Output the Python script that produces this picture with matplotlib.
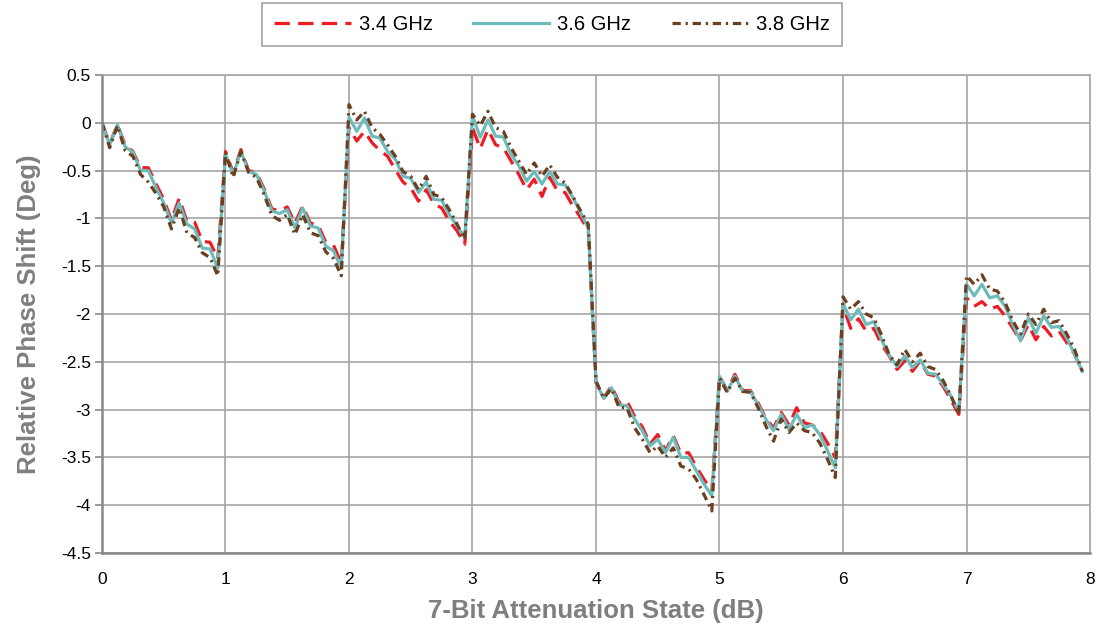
import numpy as np
import matplotlib
matplotlib.use("Agg")
import matplotlib.pyplot as plt
from matplotlib.ticker import FuncFormatter, MultipleLocator

plt.rcParams["font.family"] = ["Liberation Sans", "DejaVu Sans"]
plt.rcParams["axes.unicode_minus"] = False

# 7-bit attenuator, LSB = 0.0625 dB -> 128 states
states = np.arange(128) * 0.0625

# relative phase shift (deg) per state
phase_34 = [
    0.00, -0.22, -0.02, -0.23, -0.30, -0.47, -0.47, -0.64, -0.80, -1.02, -0.79, -1.03, -1.04, -1.24, -1.25, -1.42,
    -0.30, -0.52, -0.28, -0.50, -0.52, -0.69, -0.90, -0.92, -0.88, -1.05, -0.87, -1.05, -1.07, -1.25, -1.28, -1.47,
    -0.05, -0.19, -0.09, -0.21, -0.29, -0.35, -0.49, -0.62, -0.68, -0.82, -0.70, -0.85, -0.89, -1.03, -1.13, -1.27,
    -0.05, -0.27, -0.07, -0.23, -0.26, -0.40, -0.54, -0.70, -0.59, -0.77, -0.57, -0.71, -0.73, -0.87, -0.99, -1.13,
    -2.72, -2.88, -2.75, -2.93, -2.91, -3.07, -3.18, -3.36, -3.26, -3.43, -3.27, -3.46, -3.45, -3.60, -3.73, -3.85,
    -2.65, -2.80, -2.63, -2.80, -2.80, -2.93, -3.09, -3.19, -3.03, -3.16, -2.98, -3.14, -3.16, -3.22, -3.35, -3.50,
    -1.92, -2.15, -2.05, -2.18, -2.15, -2.32, -2.44, -2.58, -2.49, -2.60, -2.49, -2.63, -2.65, -2.76, -2.90, -3.05,
    -1.83, -1.92, -1.87, -1.95, -1.92, -2.02, -2.15, -2.28, -2.11, -2.27, -2.13, -2.23, -2.18, -2.30, -2.42, -2.60,
]
phase_36 = [
    0.00, -0.23, -0.02, -0.25, -0.31, -0.50, -0.50, -0.68, -0.84, -1.05, -0.84, -1.06, -1.11, -1.31, -1.32, -1.52,
    -0.33, -0.54, -0.30, -0.51, -0.54, -0.71, -0.92, -0.95, -0.91, -1.10, -0.89, -1.08, -1.10, -1.29, -1.34, -1.52,
    0.06, -0.09, 0.05, -0.14, -0.16, -0.30, -0.38, -0.56, -0.58, -0.73, -0.62, -0.80, -0.81, -0.96, -1.08, -1.20,
    0.07, -0.15, 0.03, -0.14, -0.15, -0.33, -0.45, -0.61, -0.51, -0.64, -0.51, -0.64, -0.65, -0.78, -0.94, -1.10,
    -2.72, -2.88, -2.77, -2.95, -2.96, -3.10, -3.22, -3.38, -3.31, -3.45, -3.29, -3.50, -3.50, -3.64, -3.78, -3.90,
    -2.65, -2.81, -2.65, -2.81, -2.81, -2.95, -3.10, -3.22, -3.05, -3.21, -3.05, -3.19, -3.16, -3.26, -3.43, -3.61,
    -1.89, -2.06, -1.95, -2.11, -2.08, -2.27, -2.43, -2.55, -2.44, -2.56, -2.48, -2.62, -2.63, -2.74, -2.86, -3.02,
    -1.69, -1.81, -1.69, -1.83, -1.81, -1.92, -2.11, -2.28, -2.04, -2.20, -2.02, -2.14, -2.13, -2.25, -2.42, -2.60,
]
phase_38 = [
    0.00, -0.26, -0.03, -0.29, -0.35, -0.54, -0.62, -0.74, -0.88, -1.11, -0.89, -1.15, -1.20, -1.36, -1.41, -1.60,
    -0.31, -0.57, -0.30, -0.52, -0.57, -0.75, -0.97, -1.02, -0.96, -1.17, -0.96, -1.15, -1.18, -1.35, -1.42, -1.60,
    0.19, 0.03, 0.12, -0.05, -0.12, -0.23, -0.35, -0.51, -0.56, -0.70, -0.56, -0.75, -0.78, -0.91, -1.06, -1.22,
    0.09, -0.03, 0.12, -0.05, -0.09, -0.26, -0.40, -0.54, -0.42, -0.56, -0.44, -0.57, -0.63, -0.77, -0.92, -1.06,
    -2.70, -2.88, -2.78, -2.98, -2.98, -3.19, -3.31, -3.45, -3.38, -3.50, -3.40, -3.59, -3.62, -3.73, -3.89, -4.06,
    -2.67, -2.82, -2.67, -2.81, -2.82, -2.98, -3.17, -3.33, -3.10, -3.24, -3.14, -3.22, -3.24, -3.35, -3.52, -3.71,
    -1.82, -1.95, -1.87, -2.00, -2.04, -2.22, -2.43, -2.53, -2.37, -2.50, -2.41, -2.55, -2.58, -2.70, -2.86, -3.05,
    -1.60, -1.69, -1.59, -1.74, -1.76, -1.88, -2.07, -2.21, -2.00, -2.11, -1.95, -2.09, -2.07, -2.21, -2.37, -2.60,
]

labels = ["3.4 GHz", "3.6 GHz", "3.8 GHz"]

GRID = "#a6a6a6"
AXIS = "#898989"
LABEL = "#7f7f7f"

fig = plt.figure(figsize=(11.11, 6.35), dpi=100)
ax = fig.add_axes([0.0918, 0.1291, 0.8893, 0.7528])

ax.plot(states, phase_34, color="#ed1c24", linewidth=2.3, dashes=(4.8, 2.6), label=labels[0])
ax.plot(states, phase_36, color="#6dbcbc", linewidth=2.3, label=labels[1])
ax.plot(states, phase_38, color="#6b3f1f", linewidth=2.3, dashes=(2.6, 1.5, 0.7, 1.5), label=labels[2])

ax.set_xlim(0, 8)
ax.set_ylim(-4.5, 0.5)
ax.xaxis.set_major_locator(MultipleLocator(1))
ax.yaxis.set_major_locator(MultipleLocator(0.5))
ax.yaxis.set_major_formatter(FuncFormatter(lambda v, p: f"{v:g}"))
ax.xaxis.set_major_formatter(FuncFormatter(lambda v, p: f"{v:g}"))

ax.grid(True, color=GRID, linewidth=1.2)
ax.set_axisbelow(True)
for side in ["top", "right"]:
    ax.spines[side].set_color(GRID)
    ax.spines[side].set_linewidth(1.2)
for side in ["left", "bottom"]:
    ax.spines[side].set_color(AXIS)
    ax.spines[side].set_linewidth(1.8)

ax.tick_params(axis="y", length=5, width=1.2, color=AXIS, labelsize=12.5, pad=3)
ax.tick_params(axis="x", length=0, labelsize=12.5, pad=14)

ax.set_xlabel("7-Bit Attenuation State (dB)", fontsize=18.5, fontweight="bold", color=LABEL, labelpad=8)
ax.set_ylabel("Relative Phase Shift (Deg)", fontsize=18.5, fontweight="bold", color=LABEL, labelpad=14)

leg = fig.legend(loc="center", bbox_to_anchor=(0.497, 0.961), ncol=3, fontsize=14.5,
                 frameon=True, fancybox=False, edgecolor="#8c8c8c",
                 handlelength=3.8, handletextpad=0.4, columnspacing=2.0,
                 borderpad=0.6)
leg.get_frame().set_linewidth(1.2)

fig.savefig("out.png", dpi=100)
